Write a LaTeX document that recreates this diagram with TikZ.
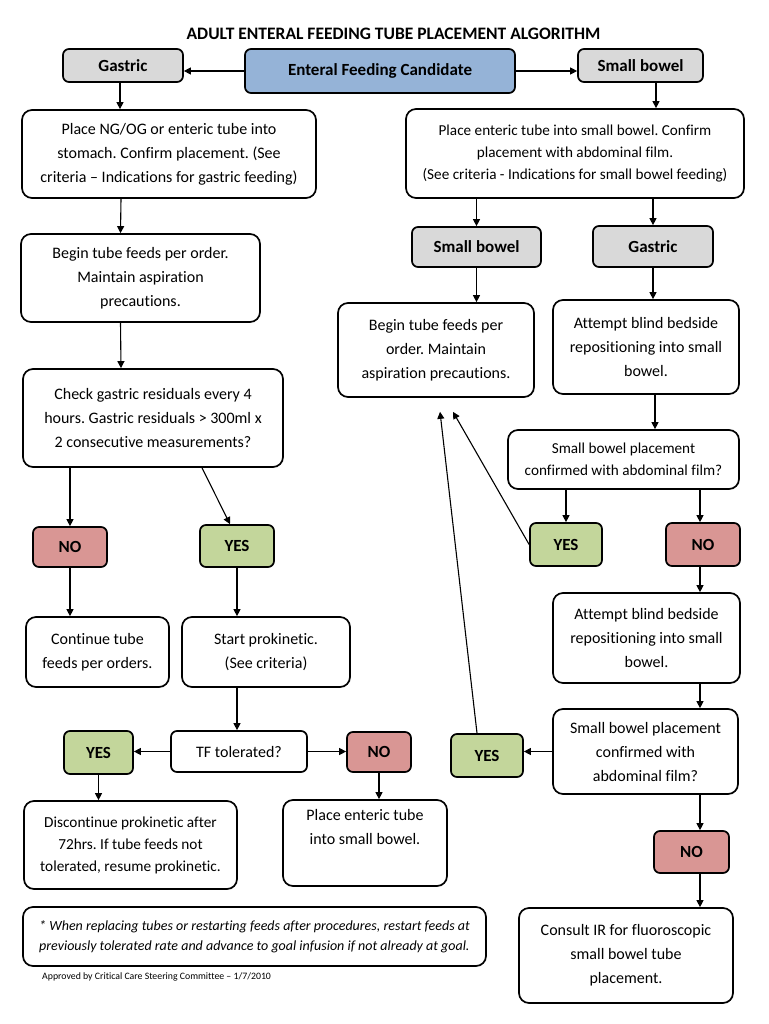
\documentclass[tikz,border=0pt]{standalone}
\usepackage{fontspec}
\setmainfont{Carlito}[Ligatures=NoCommon]
\frenchspacing
\usetikzlibrary{arrows.meta}

\definecolor{sitegray}{HTML}{D9D9D9}
\definecolor{candblue}{HTML}{95B3D7}
\definecolor{yesgreen}{HTML}{C3D69B}
\definecolor{nored}{HTML}{D99694}

\tikzset{
	textbox/.style={draw, line width=1.7pt, rounded corners=10pt, align=center, inner sep=0pt, fill=white, font=\fontsize{16}{24}\selectfont},
	smalltext/.style={font=\fontsize{15.2}{22}\selectfont},
	tagbox/.style={draw, line width=1.7pt, rounded corners=6pt, inner sep=0pt, font=\bfseries\fontsize{17}{20}\selectfont},
	yesbox/.style={tagbox, fill=yesgreen},
	nobox/.style={tagbox, fill=nored},
	sitebox/.style={tagbox, fill=sitegray},
	flow/.style={-{Triangle[length=7pt,width=7pt]}, line width=1.1pt}
}

\begin{document}
\begin{tikzpicture}[x=1pt, y=-1pt]
		\useasboundingbox (0,0) rectangle (768,1024);
		\node[font=\bfseries\fontsize{17.5}{20}\selectfont] (title) at (393.5,33.5) {ADULT ENTERAL FEEDING TUBE PLACEMENT ALGORITHM};
		
		\node[sitebox, minimum width=120pt, minimum height=33pt] (gastric) at (123,65.5) {Gastric};
		\node[tagbox, fill=candblue, minimum width=270pt, minimum height=44pt] (cand) at (380,71) {Enteral Feeding Candidate};
		\node[sitebox, minimum width=125pt, minimum height=33pt] (smallbowel) at (640.5,65.5) {Small bowel};
		
		\node[textbox, minimum width=294pt, minimum height=88pt] (placeng) at (169,154) {Place NG/OG or enteric tube into\\stomach. Confirm placement. (See\\criteria -- Indications for gastric feeding)};
		\node[textbox, minimum width=239pt, minimum height=88pt] (beginfeeds) at (140.5,278) {Begin tube feeds per order.\\Maintain aspiration\\precautions.};
		\node[textbox, minimum width=260pt, minimum height=98pt] (residuals) at (153,418) {Check gastric residuals every 4\\hours. Gastric residuals > 300ml x\\2 consecutive measurements?};
		\node[nobox, minimum width=74pt, minimum height=40pt] (noA) at (70,547) {NO};
		\node[yesbox, minimum width=74pt, minimum height=42pt] (yesA) at (237,546) {YES};
		\node[textbox, minimum width=143pt, minimum height=70pt] (contfeeds) at (97.5,652) {Continue tube\\feeds per orders.};
		\node[textbox, minimum width=168pt, minimum height=70pt] (prokin) at (266,652) {Start prokinetic.\\(See criteria)};
		\node[textbox, rounded corners=6pt, minimum width=136pt, minimum height=41pt] (tftol) at (239,751.5) {TF tolerated?};
		\node[yesbox, minimum width=69pt, minimum height=43pt] (yesB) at (98.5,752.5) {YES};
		\node[nobox, minimum width=64pt, minimum height=40pt] (noB) at (379,752) {NO};
		\node[textbox, font=\fontsize{15.3}{22}\selectfont, minimum width=213pt, minimum height=88pt] (discont) at (130.5,845) {Discontinue prokinetic after\\72hrs. If tube feeds not\\tolerated, resume prokinetic.};
		\node[textbox, minimum width=164pt, minimum height=86pt] (placesb) at (365,843) {Place enteric tube\\into small bowel.\\\strut};
		
		\node[textbox, smalltext, minimum width=338pt, minimum height=89pt] (placeent) at (575,153.5) {Place enteric tube into small bowel. Confirm\\placement with abdominal film.\\(See criteria - Indications for small bowel feeding)};
		\node[sitebox, minimum width=129pt, minimum height=40pt] (sbtag) at (476.5,247) {Small bowel};
		\node[sitebox, minimum width=120pt, minimum height=41pt] (gtag) at (653,246.5) {Gastric};
		\node[textbox, minimum width=196pt, minimum height=94pt] (beginsb) at (436,350) {Begin tube feeds per\\order. Maintain\\aspiration precautions.};
		\node[textbox, minimum width=186pt, minimum height=94pt] (attemptA) at (646,347) {Attempt blind bedside\\repositioning into small\\bowel.};
		\node[textbox, smalltext, minimum width=231pt, minimum height=59pt] (confirmA) at (623.5,459.5) {Small bowel placement\\confirmed with abdominal film?};
		\node[yesbox, minimum width=72pt, minimum height=43pt] (yesC) at (566,544.5) {YES};
		\node[nobox, minimum width=74pt, minimum height=43pt] (noC) at (703,544.5) {NO};
		\node[textbox, minimum width=187pt, minimum height=90pt] (attemptB) at (646.5,638) {Attempt blind bedside\\repositioning into small\\bowel.};
		\node[textbox, minimum width=185pt, minimum height=85pt] (confirmB) at (645.5,751.5) {Small bowel placement\\confirmed with\\abdominal film?};
		\node[yesbox, minimum width=72pt, minimum height=43pt] (yesD) at (487,755.5) {YES};
		\node[nobox, minimum width=75pt, minimum height=42pt] (noD) at (691.5,852) {NO};
		\node[textbox, minimum width=214pt, minimum height=95pt] (consult) at (626,955.5) {Consult IR for fluoroscopic\\small bowel tube\\placement.};
		
		\node[textbox, align=left, font=\itshape\fontsize{14}{19.5}\selectfont, minimum width=463pt, minimum height=59pt] (footnote) at (254.5,936.5) {* When replacing tubes or restarting feeds after procedures, restart feeds at\\previously tolerated rate and advance to goal infusion if not already at goal.};
		\node[anchor=west, inner sep=0pt, font=\fontsize{9.8}{11}\selectfont] (approved) at (42,977) {Approved by Critical Care Steering Committee -- 1/7/2010};
		
		\draw[flow] (cand.west) -- (cand.west -| gastric.east);
		\draw[flow] (cand.east) -- (cand.east -| smallbowel.west);
		\draw[flow] ([xshift=-3pt]gastric.south) -- ([xshift=-49pt]placeng.north);
		\draw[flow] ([xshift=-48pt]placeng.south) -- ([xshift=-20pt]beginfeeds.north);
		\draw[flow] ([xshift=-20pt]beginfeeds.south) -- ([xshift=-32pt]residuals.north);
		\draw[flow] (noA.north |- residuals.south) -- (noA.north);
		\draw[flow] ([xshift=49pt]residuals.south) -- ([xshift=-7pt]yesA.north);
		\draw[flow] (noA.south) -- (noA.south |- contfeeds.north);
		\draw[flow] (yesA.south) -- (yesA.south |- prokin.north);
		\draw[flow] ([xshift=-29pt]prokin.south) -- ([xshift=-2pt]tftol.north);
		\draw[flow] (tftol.west) -- (tftol.west -| yesB.east);
		\draw[flow] (tftol.east) -- (tftol.east -| noB.west);
		\draw[flow] (yesB.south) -- (yesB.south |- discont.north);
		\draw[flow] (noB.south) -- (noB.south |- placesb.north);
		
		\draw[flow] ([xshift=15.5pt]smallbowel.south) -- ([xshift=81pt]placeent.north);
		\draw[flow] (sbtag.north |- placeent.south) -- (sbtag.north);
		\draw[flow] (gtag.north |- placeent.south) -- (gtag.north);
		\draw[flow] (sbtag.south) -- (sbtag.south |- beginsb.north);
		\draw[flow] (gtag.south) -- (gtag.south |- attemptA.north);
		\draw[flow] ([xshift=9pt]attemptA.south) -- ([xshift=31.5pt]confirmA.north);
		\draw[flow] (yesC.north |- confirmA.south) -- (yesC.north);
		\draw[flow] ([xshift=76.5pt]confirmA.south) -- ([xshift=-3pt]noC.north);
		\draw[flow] ([xshift=-3pt]noC.south) -- ([xshift=53.5pt]attemptB.north);
		\draw[flow] ([xshift=53.5pt]attemptB.south) -- ([xshift=54.5pt]confirmB.north);
		\draw[flow] (confirmB.west) -- (confirmB.west -| yesD.east);
		\draw[flow] ([xshift=54.5pt]confirmB.south) -- ([xshift=8.5pt]noD.north);
		\draw[flow] ([xshift=8.5pt]noD.south) -- ([xshift=74pt]consult.north);
		\draw[flow] (yesC.west) -- ([xshift=17pt,yshift=-14pt]beginsb.south);
		\draw[flow] ([xshift=-10pt]yesD.north) -- ([xshift=4pt,yshift=-14pt]beginsb.south);
\end{tikzpicture}
\end{document}
